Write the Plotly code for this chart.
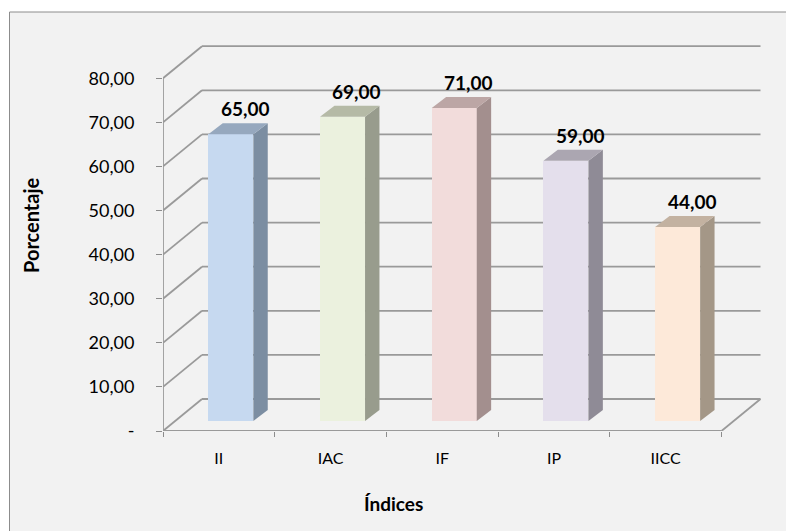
import plotly.graph_objects as go

# ---------------- data ----------------
categories = ["II", "IAC", "IF", "IP", "IICC"]
values = [65.00, 69.00, 71.00, 59.00, 44.00]
y_ticks = [0, 10, 20, 30, 40, 50, 60, 70, 80]
y_tick_labels = ["-", "10,00", "20,00", "30,00", "40,00", "50,00", "60,00", "70,00", "80,00"]

# ---------------- styles ----------------
front_colors = ["#c6d9f0", "#ebf1de", "#f2dcdb", "#e4dfec", "#fde9d9"]
side_colors = ["#7c8ea2", "#989c8d", "#a38f8e", "#8f8b96", "#a49787"]
top_colors = ["#96a8be", "#b5baa6", "#bca6a5", "#aba6b1", "#c3b2a1"]
grid_color = "#9a9a9a"
text_font = "Lato"

W, H = 786, 531
ML, MR, MT, MB = 163, 24, 45, 100
PX_X = 111.7          # pixels per category
PX_Y = 4.41           # pixels per percentage unit
plot_w = W - ML - MR
plot_h = H - MT - MB

# 3-D depth (data units)
DX = 39 / PX_X        # wall depth along x
DY = 32 / PX_Y        # wall depth along y
BX0 = 12 / PX_X       # bar front plane offset
BY0 = 10 / PX_Y
BDX = 14.4 / PX_X     # bar depth
BDY = 11 / PX_Y
BW = 45 / PX_X        # bar width

n = len(categories)
x_left = -0.5
x_right = n - 0.5
top_val = y_ticks[-1]


def px_to_paper_x(px):
    return (px - ML) / plot_w


def px_to_paper_y(py):
    return (H - MB - py) / plot_h


fig = go.Figure()

shapes = []
# chart background + border (cut by the picture on right and bottom)
shapes.append(dict(type="rect", xref="paper", yref="paper", layer="below",
                   x0=px_to_paper_x(9.5), x1=px_to_paper_x(800),
                   y0=px_to_paper_y(560), y1=px_to_paper_y(12),
                   fillcolor="#f2f2f2", line=dict(color="#8c8c8c", width=1)))

GW = 1.8
# back-wall gridlines and side-wall diagonals
for v in y_ticks:
    shapes.append(dict(type="line", xref="x", yref="y", layer="below",
                       x0=x_left + DX, x1=x_right + DX, y0=v + DY, y1=v + DY,
                       line=dict(color=grid_color, width=GW)))
    shapes.append(dict(type="line", xref="x", yref="y", layer="below",
                       x0=x_left, x1=x_left + DX, y0=v, y1=v + DY,
                       line=dict(color=grid_color, width=GW)))
# front axis line
shapes.append(dict(type="line", xref="x", yref="y", layer="below",
                   x0=x_left, x1=x_left, y0=0, y1=top_val,
                   line=dict(color=grid_color, width=GW)))
# floor front and right edges
shapes.append(dict(type="line", xref="x", yref="y", layer="below",
                   x0=x_left, x1=x_right, y0=0, y1=0,
                   line=dict(color=grid_color, width=GW)))
shapes.append(dict(type="line", xref="x", yref="y", layer="below",
                   x0=x_right, x1=x_right + DX, y0=0, y1=DY,
                   line=dict(color=grid_color, width=GW)))

# front faces of bars
fig.add_trace(go.Bar(
    x=[i + BX0 for i in range(n)],
    y=values,
    base=BY0,
    width=BW,
    marker=dict(color=front_colors, line=dict(width=0)),
    hoverinfo="skip",
    showlegend=False,
))

# side and top faces
for i, v in enumerate(values):
    cx = i + BX0
    xl, xr = cx - BW / 2, cx + BW / 2
    b, t = BY0, v + BY0
    fig.add_trace(go.Scatter(
        x=[xr, xr + BDX, xr + BDX, xr, xr],
        y=[b, b + BDY, t + BDY, t, b],
        fill="toself", fillcolor=side_colors[i], mode="none",
        hoverinfo="skip", showlegend=False))
    fig.add_trace(go.Scatter(
        x=[xl, xr, xr + BDX, xl + BDX, xl],
        y=[t, t, t + BDY, t + BDY, t],
        fill="toself", fillcolor=top_colors[i], mode="none",
        hoverinfo="skip", showlegend=False))

annotations = []
for i, v in enumerate(values):
    annotations.append(dict(
        x=i + BX0 + BDX, y=v + BY0 + BDY, xref="x", yref="y",
        text=f"{v:.2f}".replace(".", ","), showarrow=False,
        yanchor="bottom", xanchor="center", yshift=1,
        font=dict(family=text_font, size=19, color="#000000", weight="bold")))

annotations.append(dict(
    x=px_to_paper_x(393), y=px_to_paper_y(503), xref="paper", yref="paper",
    text="Índices", showarrow=False, xanchor="center", yanchor="middle",
    font=dict(family=text_font, size=19, color="#000000", weight="bold")))
annotations.append(dict(
    x=px_to_paper_x(31), y=px_to_paper_y(225), xref="paper", yref="paper",
    text="Porcentaje", showarrow=False, xanchor="center", yanchor="middle",
    textangle=-90,
    font=dict(family=text_font, size=20, color="#000000", weight="bold")))

fig.update_layout(
    width=W, height=H,
    margin=dict(l=ML, r=MR, t=MT, b=MB, pad=0),
    paper_bgcolor="#ffffff",
    plot_bgcolor="rgba(0,0,0,0)",
    shapes=shapes,
    annotations=annotations,
    showlegend=False,
    xaxis=dict(
        range=[x_left, x_left + plot_w / PX_X],
        tickmode="array", tickvals=list(range(n)), ticktext=categories,
        ticks="", showgrid=False, zeroline=False, showline=False,
        tickfont=dict(family=text_font, size=16, color="#000000"),
        ticklabelstandoff=16,
        minor=dict(tickmode="array",
                   tickvals=[k - 0.5 for k in range(n + 1)],
                   ticks="outside", ticklen=5, tickwidth=1.2,
                   tickcolor="#8c8c8c", showgrid=False),
        fixedrange=True,
    ),
    yaxis=dict(
        range=[0, plot_h / PX_Y],
        tickmode="array", tickvals=y_ticks, ticktext=y_tick_labels,
        ticks="outside", ticklen=6, tickwidth=1.2, tickcolor="#8c8c8c",
        showgrid=False, zeroline=False, showline=False,
        tickfont=dict(family=text_font, size=18, color="#000000"),
        ticklabelstandoff=18,
        fixedrange=True,
    ),
    bargap=0,
)

fig.write_html("out.html")
